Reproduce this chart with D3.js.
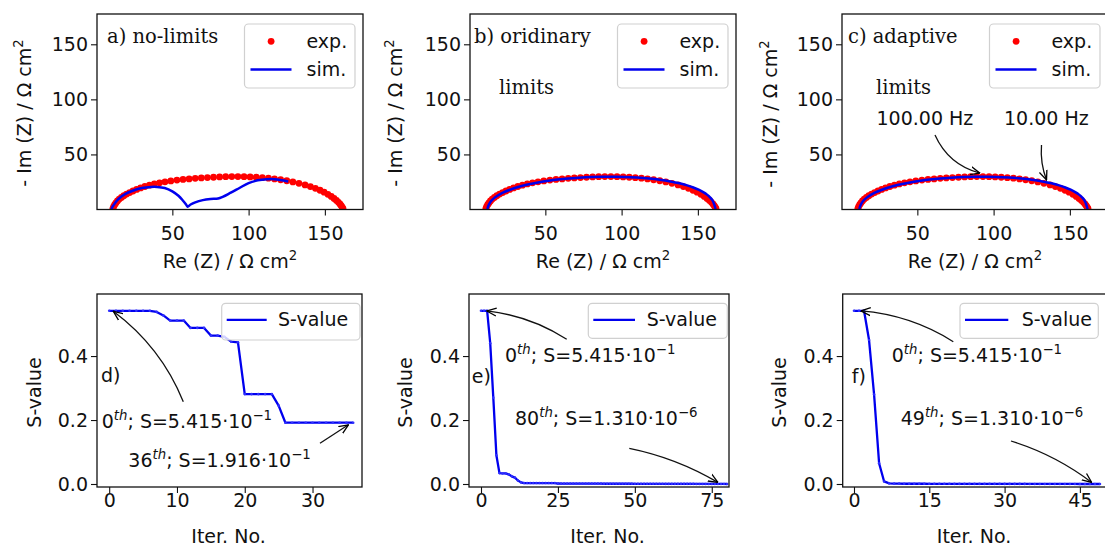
<!DOCTYPE html>
<html><head><meta charset="utf-8">
<script src="https://cdn.jsdelivr.net/npm/d3@7"></script>
<style>body{margin:0;background:#fff;} svg{display:block;}</style>
</head><body>
<svg id="c" width="1105" height="545"></svg>
<script>
// ---------------- DATA ----------------
const expRe = [11.0, 11.5, 12.2, 13.0, 14.0, 15.2, 16.6, 18.2, 20.0, 22.0, 24.2, 26.6, 29.2, 32.0, 35.0, 38.2, 41.6, 45.2, 49.0, 53.0, 57.0, 61.0, 65.0, 69.0, 73.0, 77.0, 81.0, 85.0, 89.0, 93.0, 97.0, 101.0, 105.0, 109.0, 113.0, 117.0, 121.0, 125.0, 129.0, 133.0, 137.0, 140.5, 143.8, 146.8, 149.5, 152.0, 154.2, 156.0, 157.6, 158.9, 160.0, 160.8, 161.4, 161.9];
const expIm = [0.8, 2.5, 4.3, 6.0, 7.8, 9.5, 11.0, 12.5, 14.0, 15.4, 16.8, 18.2, 19.6, 20.9, 22.1, 23.2, 24.2, 25.1, 25.9, 26.7, 27.3, 27.8, 28.3, 28.7, 29.0, 29.3, 29.6, 29.8, 29.9, 29.9, 29.8, 29.6, 29.3, 28.9, 28.4, 27.8, 27.0, 26.1, 25.0, 23.8, 22.3, 20.8, 19.2, 17.5, 15.7, 13.8, 11.9, 10.0, 8.2, 6.5, 4.8, 3.3, 2.0, 0.8];

// panel a simulation (no limits)
const simARe = [10, 11, 12.5, 15, 19, 24, 30, 36, 40, 45, 50, 54, 57, 59, 60, 62, 65, 70, 75, 80, 83, 88, 94, 100, 106, 112, 117, 122, 126];
const simAIm = [0, 3, 6, 10, 14, 17, 19.5, 20.5, 20.5, 19.5, 16.5, 12.5, 8, 4.5, 2.5, 4.5, 6.5, 8.5, 9.5, 10.0, 11.5, 15, 19.5, 24, 26.5, 27.5, 27.5, 26.5, 25.5];

// panels b and c simulation (ordinary / adaptive limits)
const simBRe = [12.0, 12.5, 13.5, 15.0, 17.0, 19.5, 22.5, 26.0, 30.0, 35.0, 40.0, 46.0, 52.0, 58.0, 65.0, 72.0, 80.0, 88.0, 95.0, 102.0, 110.0, 118.0, 125.0, 132.0, 138.0, 143.0, 147.0, 150.5, 153.5, 156.0, 158.0, 159.5, 160.5, 161.2, 161.6];
const simBIm = [0.5, 3.0, 5.8, 8.5, 11.0, 13.3, 15.5, 17.5, 19.5, 21.5, 23.2, 24.8, 26.1, 27.2, 28.2, 28.9, 29.5, 29.8, 29.8, 29.6, 29.0, 28.1, 27.0, 25.5, 23.8, 21.9, 20.0, 18.0, 15.8, 13.5, 11.0, 8.5, 5.5, 2.5, 0.5];

// S-value per iteration
const sD = [0.5415, 0.5415, 0.5415, 0.5415, 0.5415, 0.5415, 0.5415, 0.538, 0.527, 0.511,
            0.511, 0.511, 0.488, 0.488, 0.488, 0.464, 0.464, 0.460, 0.445, 0.443,
            0.281, 0.281, 0.281, 0.281, 0.281, 0.245, 0.1916, 0.1916, 0.1916, 0.1916,
            0.1916, 0.1916, 0.1916, 0.1916, 0.1916, 0.1916, 0.1916];
const sE = [0.5415, 0.5415, 0.5415, 0.44, 0.27, 0.09, 0.034, 0.033, 0.033, 0.030,
            0.024, 0.020, 0.011, 0.005, 0.003, 0.003, 0.003, 0.003, 0.003, 0.003,
            0.003, 0.003, 0.003, 0.003, 0.003, 0.0015, 0.001, 0.001, 0.001, 0.001,
            0.001, 0.001, 0.001, 0.001, 0.001, 0.001, 0.001, 0.001, 0.001, 0.001,
            0.0008, 0.0008, 0.0008, 0.0008, 0.0008, 0.0008, 0.0008, 0.0008, 0.0008, 0.0008,
            0.0006, 0.0006, 0.0006, 0.0006, 0.0006, 0.0006, 0.0006, 0.0006, 0.0006, 0.0006,
            0.0004, 0.0004, 0.0004, 0.0004, 0.0004, 0.0004, 0.0004, 0.0004, 0.0004, 0.0004,
            0.0002, 0.0002, 0.0002, 0.0002, 0.0002, 0.0002, 0.0002, 0.0002, 0.0002, 0.0002,
            0.0000013];
const sF = [0.5415, 0.5415, 0.5415, 0.45, 0.28, 0.065, 0.008, 0.002, 0.001, 0.001,
            0.0008, 0.0008, 0.0008, 0.0008, 0.0008, 0.0006, 0.0006, 0.0006, 0.0006, 0.0006,
            0.0005, 0.0005, 0.0005, 0.0005, 0.0005, 0.0004, 0.0004, 0.0004, 0.0004, 0.0004,
            0.0003, 0.0003, 0.0003, 0.0003, 0.0003, 0.0002, 0.0002, 0.0002, 0.0002, 0.0002,
            0.0001, 0.0001, 0.0001, 0.0001, 0.0001, 0.00005, 0.00005, 0.00005, 0.00005, 0.0000013];

const reTicks = [50, 100, 150];
const imTicks = [50, 100, 150];
const sTicks = [0.0, 0.2, 0.4];
const iterTicksD = [0, 10, 20, 30];
const iterTicksE = [0, 25, 50, 75];
const iterTicksF = [0, 15, 30, 45];

// ---------------- DRAWING ----------------
const svg = d3.select("#c");
const SANS = "DejaVu Sans", SERIF = "DejaVu Serif";
const FS = 19;
const defs = svg.append("defs");
defs.append("marker").attr("id", "ah").attr("viewBox", "0 0 10 10")
  .attr("refX", 9.5).attr("refY", 5).attr("markerWidth", 10).attr("markerHeight", 10)
  .attr("orient", "auto").attr("markerUnits", "userSpaceOnUse")
  .append("path").attr("d", "M0,1 L9.5,5 L0,9").attr("fill", "none")
  .attr("stroke", "#000").attr("stroke-width", 1.3);

function addText(g, x, y, parts, o = {}) {
  const size = o.size || FS;
  const t = g.append("text")
    .attr("transform", `translate(${x},${y})` + (o.rotate ? ` rotate(${o.rotate})` : ""))
    .attr("font-family", o.family || SANS).attr("font-size", size)
    .attr("text-anchor", o.anchor || "start").attr("fill", "#111");
  if (typeof parts === "string") parts = [[parts]];
  let shift = 0;
  parts.forEach(([s, st = {}]) => {
    const target = st.sup ? -size * 0.42 : 0;
    const ts = t.append("tspan").attr("dy", target - shift).text(s);
    shift = target;
    if (st.sup) ts.attr("font-size", size * 0.7);
    if (st.it) ts.attr("font-style", "italic");
  });
  return t;
}

function arrow(g, x0, y0, x1, y1, bulge) {
  const dx = x1 - x0, dy = y1 - y0, L = Math.hypot(dx, dy);
  const nx = -dy / L, ny = dx / L;
  const cx = (x0 + x1) / 2 + nx * bulge, cy = (y0 + y1) / 2 + ny * bulge;
  g.append("path").attr("d", `M${x0},${y0} Q${cx},${cy} ${x1},${y1}`)
    .attr("fill", "none").attr("stroke", "#111").attr("stroke-width", 1.3)
    .attr("marker-end", "url(#ah)");
}

function styleAxis(sel) {
  sel.select(".domain").remove();
  sel.selectAll(".tick line").attr("stroke", "#111").attr("stroke-width", 1.1);
  sel.selectAll(".tick text").attr("font-family", SANS).attr("font-size", FS).attr("fill", "#111");
}

let clipN = 0;
function frame(g, x0, x1, y0, y1) {
  g.append("rect").attr("x", x0).attr("y", y0).attr("width", x1 - x0).attr("height", y1 - y0)
    .attr("fill", "none").attr("stroke", "#111").attr("stroke-width", 1.3);
}
function makeClip(x0, x1, y0, y1) {
  const id = "clip" + (clipN++);
  defs.append("clipPath").attr("id", id).append("rect")
    .attr("x", x0).attr("y", y0).attr("width", x1 - x0).attr("height", y1 - y0);
  return id;
}

// ---- top row: Nyquist plots ----
const TOP = 14, BOT = 209.5, W = 266;
const yIm = d3.scaleLinear().domain([0, 177.5]).range([BOT, TOP]);
const topPanels = [
  { left: 97, simRe: simARe, simIm: simAIm, ylabX: 31, ylabY: 113, xlabX: 230,
    titles: [["a) no-limits", 107, 43.3]] },
  { left: 470, simRe: simBRe, simIm: simBIm, ylabX: 401.5, ylabY: 113, xlabX: 603,
    titles: [["b) oridinary", 474, 43.3], ["limits", 499, 94]] },
  { left: 842, simRe: simBRe, simIm: simBIm, ylabX: 776.5, ylabY: 114, xlabX: 975,
    titles: [["c) adaptive", 848, 43.3], ["limits", 876, 94.3]] }
];

topPanels.forEach((p, k) => {
  const right = p.left + W;
  const x = d3.scaleLinear().domain([0.6, 175]).range([p.left, right]);
  const g = svg.append("g");
  const plot = g.append("g").attr("clip-path", `url(#${makeClip(p.left, right, TOP, BOT)})`);
  plot.selectAll("circle").data(d3.range(expRe.length)).join("circle")
    .attr("cx", i => x(expRe[i])).attr("cy", i => yIm(expIm[i])).attr("r", 3.4).attr("fill", "#ff0000");
  const line = d3.line().x(i => x(p.simRe[i])).y(i => yIm(p.simIm[i])).curve(d3.curveCatmullRom.alpha(0.5));
  plot.append("path").attr("d", line(d3.range(p.simRe.length)))
    .attr("fill", "none").attr("stroke", "#0000ee").attr("stroke-width", 2.5);

  const ax = g.append("g").attr("transform", `translate(0,${BOT})`)
    .call(d3.axisBottom(x).tickValues(reTicks).tickSize(6).tickPadding(11.4).tickFormat(d3.format("d")));
  styleAxis(ax);
  const ay = g.append("g").attr("transform", `translate(${p.left},0)`)
    .call(d3.axisLeft(yIm).tickValues(imTicks).tickSize(6).tickPadding(3).tickFormat(d3.format("d")));
  styleAxis(ay);
  frame(g, p.left, right, TOP, BOT);

  addText(g, p.xlabX, 267.5, [["Re (Z) / Ω cm"], ["2", { sup: true }]], { anchor: "middle" });
  addText(g, p.ylabX, p.ylabY, [["- Im (Z) / Ω cm"], ["2", { sup: true }]], { anchor: "middle", rotate: -90 });
  p.titles.forEach(([s, tx, ty]) => addText(g, tx, ty, s, { family: SERIF, size: 19.5 }));

  // legend
  const bx = right - 8 - 110.5, by = 24;
  g.append("rect").attr("x", bx).attr("y", by).attr("width", 110.5).attr("height", 64).attr("rx", 4)
    .attr("fill", "#fff").attr("fill-opacity", 0.8).attr("stroke", "#d0d0d0").attr("stroke-width", 1.2);
  g.append("circle").attr("cx", bx + 26.6).attr("cy", by + 17.3).attr("r", 3.4).attr("fill", "#ff0000");
  addText(g, bx + 62, by + 23.5, "exp.");
  g.append("line").attr("x1", bx + 6).attr("x2", bx + 47).attr("y1", by + 45.5).attr("y2", by + 45.5)
    .attr("stroke", "#0000ee").attr("stroke-width", 2.5);
  addText(g, bx + 62, by + 52, "sim.");

  if (k === 2) {
    addText(g, 876.5, 125, "100.00 Hz");
    addText(g, 1004, 125, "10.00 Hz");
    arrow(g, 935, 135, x(91), yIm(33), 14);
    arrow(g, 1041.5, 145, x(134.7), yIm(26.8), 4);
  }
});

// ---- bottom row: S-value convergence ----
const BT = 294, BB = 487;
const yS = d3.scaleLinear().domain([-0.0094, 0.594]).range([BB, BT]);
const th = (n, s, e) => [[n], ["th", { sup: true, it: true }], ["; S=" + s + "·10"], [e, { sup: true }]];
const botPanels = [
  { left: 97, right: 362, dom: [-1.8, 37.3], data: sD, ticks: iterTicksD,
    ylabX: 40.5, xlabX: 228.5, tag: ["d)", 101, 381.7],
    leg: [221.7, 138.3, 36.7, 5, 45, 56.3],
    notes: [
      { t: th("0", "5.415", "−1"), tx: 101.7, ty: 428.3, from: [183.3, 401.7], xy: [0.6, 0.54], bulge: 16 },
      { t: th("36", "1.916", "−1"), tx: 128.3, ty: 466.7, from: [320, 443.3], xy: [35.3, 0.185], bulge: 0 }
    ] },
  { left: 469, right: 729, dom: [-3.9, 80.6], data: sE, ticks: iterTicksE,
    ylabX: 412.3, xlabX: 607.5, tag: ["e)", 471.7, 383.3],
    leg: [588.3, 139, 35, 5, 46.7, 58.4],
    notes: [
      { t: th("0", "5.415", "−1"), tx: 505, ty: 361.7, from: [566.7, 339.3], xy: [1.9, 0.541], bulge: 10 },
      { t: th("80", "1.310", "−6"), tx: 515, ty: 425, from: [629.3, 448.3], xy: [77, 0.005], bulge: -8 }
    ] },
  { left: 842.7, right: 1108, dom: [-2.25, 50.6], data: sF, ticks: iterTicksF,
    ylabX: 785.7, xlabX: 974, tag: ["f)", 851.7, 383],
    leg: [960, 138.3, 35, 5, 48.3, 61.7],
    notes: [
      { t: th("0", "5.415", "−1"), tx: 891.7, ty: 361.7, from: [953.3, 341.7], xy: [1.4, 0.541], bulge: 12 },
      { t: th("49", "1.310", "−6"), tx: 900.7, ty: 425, from: [1011, 441], xy: [47.35, 0.005], bulge: -8 }
    ] }
];

botPanels.forEach(p => {
  const x = d3.scaleLinear().domain(p.dom).range([p.left, p.right]);
  const g = svg.append("g");
  const plot = g.append("g").attr("clip-path", `url(#${makeClip(p.left, p.right, BT, BB)})`);
  const line = d3.line().x((d, i) => x(i)).y(d => yS(d));
  plot.append("path").attr("d", line(p.data)).attr("fill", "none")
    .attr("stroke", "#0000ee").attr("stroke-width", 2.3).attr("stroke-linejoin", "round");
  plot.selectAll("circle").data(p.data).join("circle")
    .attr("cx", (d, i) => x(i)).attr("cy", d => yS(d)).attr("r", 1.3).attr("fill", "#3030ff");

  const ax = g.append("g").attr("transform", `translate(0,${BB})`)
    .call(d3.axisBottom(x).tickValues(p.ticks).tickSize(6).tickPadding(0.5).tickFormat(d3.format("d")));
  styleAxis(ax);
  const ay = g.append("g").attr("transform", `translate(${p.left},0)`)
    .call(d3.axisLeft(yS).tickValues(sTicks).tickSize(6).tickPadding(3).tickFormat(d3.format(".1f")));
  styleAxis(ay);
  frame(g, p.left, p.right, BT, BB);

  addText(g, p.xlabX, 542.5, "Iter. No.", { anchor: "middle" });
  addText(g, p.ylabX, 392.5, "S-value", { anchor: "middle", rotate: -90 });
  addText(g, p.tag[1], p.tag[2], p.tag[0]);

  // legend
  const [bx, bw, bh, l0, l1, tx] = p.leg, by = 303.3;
  g.append("rect").attr("x", bx).attr("y", by).attr("width", bw).attr("height", bh).attr("rx", 4)
    .attr("fill", "#fff").attr("fill-opacity", 0.8).attr("stroke", "#d0d0d0").attr("stroke-width", 1.2);
  g.append("line").attr("x1", bx + l0).attr("x2", bx + l1).attr("y1", by + 16.5).attr("y2", by + 16.5)
    .attr("stroke", "#0000ee").attr("stroke-width", 2.3);
  addText(g, bx + tx, by + 23, "S-value");

  p.notes.forEach(n => {
    addText(g, n.tx, n.ty, n.t);
    arrow(g, n.from[0], n.from[1], x(n.xy[0]), yS(n.xy[1]), n.bulge);
  });
});
</script>
</body></html>
